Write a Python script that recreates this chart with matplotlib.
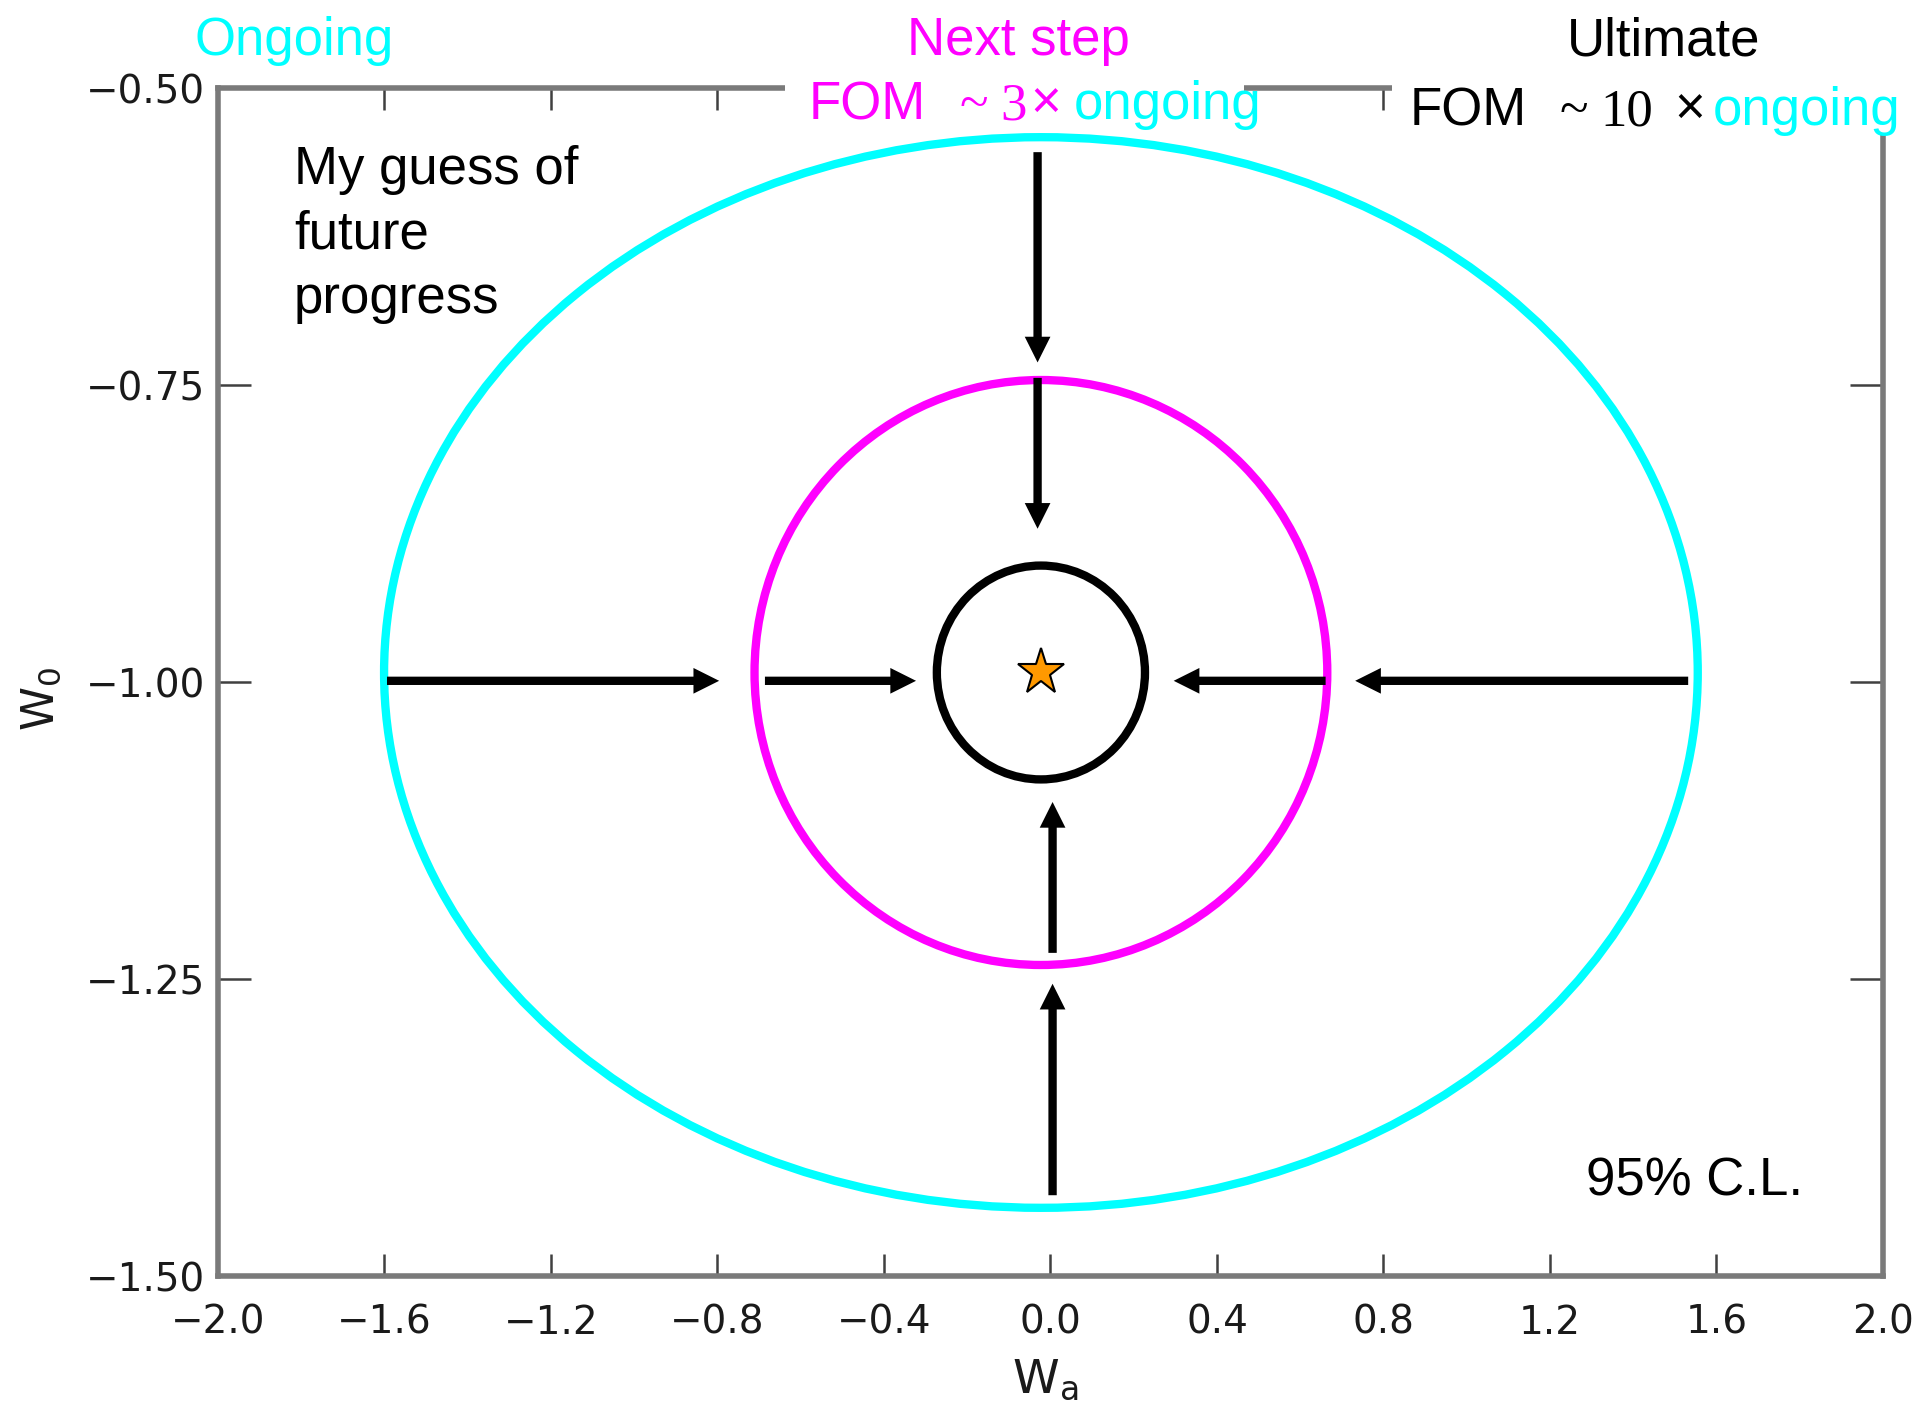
import matplotlib.pyplot as plt
from matplotlib.patches import Ellipse, Rectangle

plt.rcParams['font.family'] = ['Liberation Sans', 'DejaVu Sans']
plt.rcParams['mathtext.default'] = 'regular'

# --------------------------------------------------
# データ: w_a - w_0 平面の 95% C.L. 楕円
# --------------------------------------------------
ellipse_names = ['Ongoing', 'Next step', 'Ultimate']
ellipse_colors = ['#00FFFF', '#FF00FF', '#000000']
center_wa = -0.023
center_w0 = -0.992
half_wa = [1.578, 0.688, 0.250]
half_w0 = [0.4506, 0.2462, 0.0900]

# fiducial (Lambda CDM) point
star_wa = -0.023
star_w0 = -0.992

# arrows: tail -> head
arrow_tail_wa = [-0.031, -0.031, 0.005, 0.005, -1.594, -0.686, 0.661, 1.532]
arrow_tail_w0 = [-0.554, -0.744, -1.228, -1.432, -0.999, -0.999, -0.999, -0.999]
arrow_head_wa = [-0.031, -0.031, 0.005, 0.005, -0.796, -0.323, 0.296, 0.732]
arrow_head_w0 = [-0.731, -0.871, -1.101, -1.254, -0.999, -0.999, -0.999, -0.999]

xticks = [-2.0, -1.6, -1.2, -0.8, -0.4, 0.0, 0.4, 0.8, 1.2, 1.6, 2.0]
yticks = [-1.50, -1.25, -1.00, -0.75, -0.50]

guess_lines = ['My guess of', 'future', 'progress']

# --------------------------------------------------
# 描画
# --------------------------------------------------
fig = plt.figure(figsize=(19.23, 14.21), dpi=100)
ax = fig.add_axes([0.11336, 0.10204, 0.86583, 0.83603])

for hx, hy, c in zip(half_wa, half_w0, ellipse_colors):
    ax.add_patch(Ellipse((center_wa, center_w0), 2 * hx, 2 * hy,
                         fill=False, ec=c, lw=6))

# filled arrows (shaft + sharp triangular head)
for tx, ty, hx, hy in zip(arrow_tail_wa, arrow_tail_w0, arrow_head_wa, arrow_head_w0):
    ax.annotate('', xy=(hx, hy), xytext=(tx, ty),
                arrowprops=dict(width=6.0, headwidth=18.5, headlength=18.5,
                                fc='black', ec='none', lw=0, shrink=0))

ax.plot([star_wa], [star_w0], marker='*', ms=35, mfc='#FF9900', mec='black',
        mew=1.5, zorder=5)

ax.set_xlim(-2.0, 2.0)
ax.set_ylim(-1.5, -0.5)
ax.set_xticks(xticks)
ax.set_yticks(yticks)
ax.set_xticklabels([f'{v:.1f}'.replace('-', '\u2212') for v in xticks])
ax.set_yticklabels([f'{v:.2f}'.replace('-', '\u2212') for v in yticks])
ax.tick_params(direction='in', top=True, right=True, width=1.8,
               color='#404040', labelsize=28, labelcolor='#1a1a1a')
ax.tick_params(axis='x', length=16, pad=20)
ax.tick_params(axis='y', length=24, pad=9)
for lbl in ax.get_xticklabels() + ax.get_yticklabels():
    lbl.set_fontfamily('DejaVu Sans')
for sp in ax.spines.values():
    sp.set_color('#7a7a7a')
    sp.set_linewidth(4.0)

# axis labels
fig.text(0.5437, 0.0204, 'W$_a$', fontsize=34, family='DejaVu Sans',
         ha='center', va='baseline', color='#1a1a1a')
fig.text(0.0213, 0.508, 'W$_0$', fontsize=32, family='DejaVu Sans',
         rotation=90, ha='center', va='center', color='#1a1a1a')

# white panels behind the headings at the top
fig.add_artist(Rectangle((0.408, 0.912), 0.239, 0.041, transform=fig.transFigure,
                         fc='white', ec='none'))
fig.add_artist(Rectangle((0.724, 0.905), 0.276, 0.048, transform=fig.transFigure,
                         fc='white', ec='none'))

FS = 38
W, H = 1923, 1421
serif = ['Liberation Serif', 'DejaVu Serif']

# headings
top_y = 1 - 55 / H
fig.text(294 / W, top_y, ellipse_names[0], color=ellipse_colors[0], fontsize=FS,
         ha='center', va='baseline')
fig.text(1018 / W, top_y, ellipse_names[1], color=ellipse_colors[1], fontsize=FS,
         ha='center', va='baseline')
fig.text(1664 / W, top_y, ellipse_names[2], color=ellipse_colors[2], fontsize=FS,
         ha='center', va='baseline')

# "FOM ~3x ongoing"
y2 = 1 - 119 / H
for s, x, c, fam in [('FOM', 809, '#FF00FF', None), ('~', 960, '#FF00FF', serif),
                     ('3', 1000, '#FF00FF', serif), ('\u00d7', 1030, '#FF00FF', None),
                     ('ongoing', 1074, '#00FFFF', None)]:
    kw = {'family': fam} if fam else {}
    fig.text(x / W, y2, s, color=c, fontsize=FS, ha='left', va='baseline', **kw)

# "FOM ~10 x ongoing"
y3 = 1 - 125 / H
for s, x, c, fam in [('FOM', 1410, 'black', None), ('~', 1560, 'black', serif),
                     ('10', 1600, 'black', serif), ('\u00d7', 1674, 'black', None),
                     ('ongoing', 1713, '#00FFFF', None)]:
    kw = {'family': fam} if fam else {}
    fig.text(x / W, y3, s, color=c, fontsize=FS, ha='left', va='baseline', **kw)

for i, line in enumerate(guess_lines):
    fig.text(294 / W, 1 - (184 + 64.4 * i) / H, line, fontsize=FS,
             ha='left', va='baseline')
fig.text(1586 / W, 1 - 1196 / H, '95% C.L.', fontsize=FS, ha='left', va='baseline')

fig.savefig('out.png', dpi=100)
